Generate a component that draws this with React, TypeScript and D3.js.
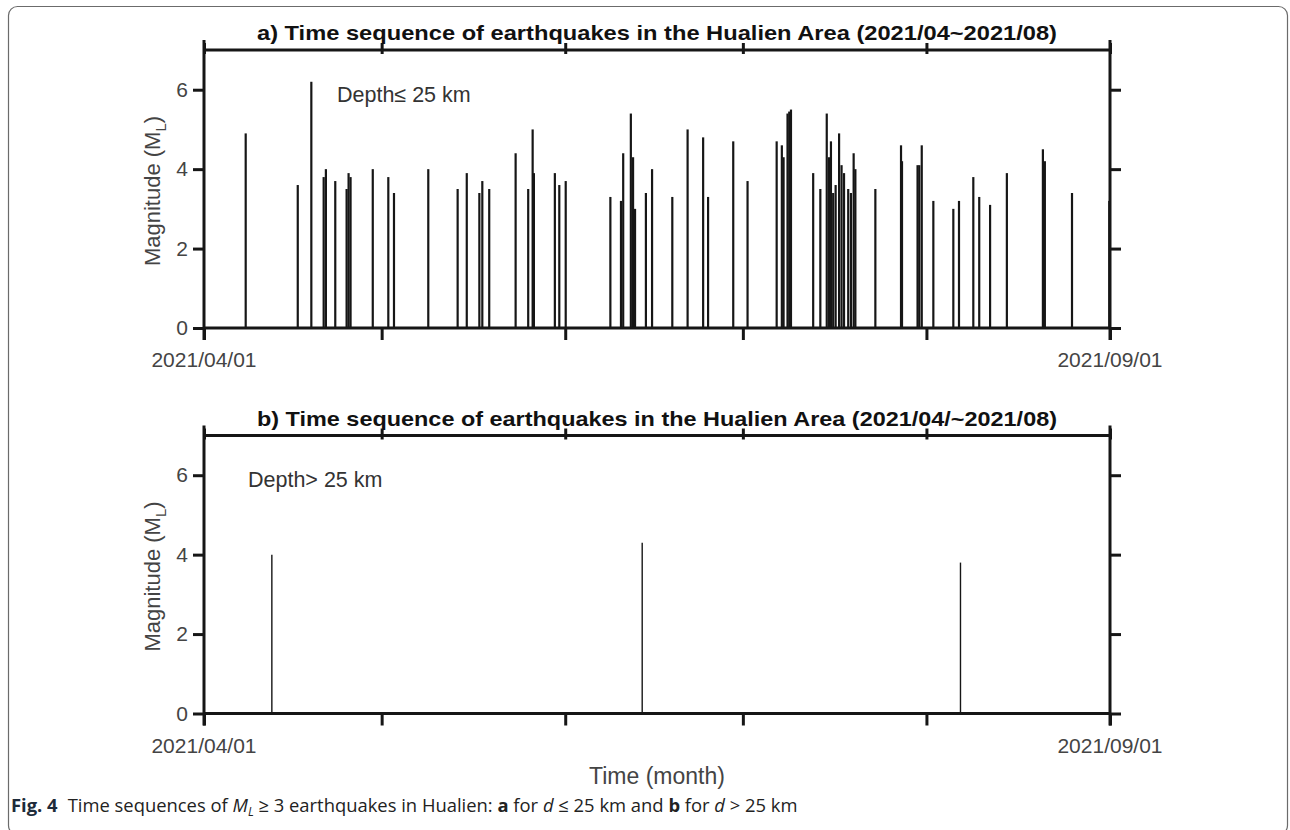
import React, { useEffect, useRef } from "react";
import * as d3 from "d3";

// events with depth <= 25 km (date-hour, magnitude ML)
const shallowTimes = [
  "2021-04-08 01", "2021-04-16 20", "2021-04-19 03", "2021-04-21 05", "2021-04-21 14",
  "2021-04-23 04", "2021-04-25 02", "2021-04-25 10", "2021-04-25 18", "2021-04-29 12",
  "2021-05-02 03", "2021-05-03 02", "2021-05-08 21", "2021-05-13 20", "2021-05-15 09",
  "2021-05-17 12", "2021-05-18 00", "2021-05-19 04", "2021-05-23 15", "2021-05-25 18",
  "2021-05-26 12", "2021-05-26 17", "2021-05-30 06", "2021-05-31 00", "2021-06-01 02",
  "2021-06-08 15", "2021-06-10 10", "2021-06-10 19", "2021-06-12 02", "2021-06-12 11",
  "2021-06-12 19", "2021-06-14 15", "2021-06-15 16", "2021-06-19 02", "2021-06-21 16",
  "2021-06-24 07", "2021-06-25 03", "2021-06-29 09", "2021-07-01 19", "2021-07-06 17",
  "2021-07-07 14", "2021-07-07 21", "2021-07-08 13", "2021-07-08 20", "2021-07-09 03",
  "2021-07-12 21", "2021-07-14 02", "2021-07-15 04", "2021-07-15 13", "2021-07-15 21",
  "2021-07-16 06", "2021-07-16 16", "2021-07-17 06", "2021-07-17 16", "2021-07-18 02",
  "2021-07-18 19", "2021-07-19 06", "2021-07-19 17", "2021-07-20 00", "2021-07-23 09",
  "2021-07-27 17", "2021-07-27 21", "2021-07-30 12", "2021-07-30 19", "2021-07-31 05",
  "2021-08-02 04", "2021-08-05 13", "2021-08-06 12", "2021-08-08 22", "2021-08-09 22",
  "2021-08-11 18", "2021-08-14 14", "2021-08-20 16", "2021-08-21 00", "2021-08-25 14",
  "2021-08-31 21",
];
const shallowMags = [
  4.9, 3.6, 6.2, 3.8, 4.0,
  3.7, 3.5, 3.9, 3.8, 4.0,
  3.8, 3.4, 4.0, 3.5, 3.9,
  3.4, 3.7, 3.5, 4.4, 3.5,
  5.0, 3.9, 3.9, 3.6, 3.7,
  3.3, 3.2, 4.4, 5.4, 4.3,
  3.0, 3.4, 4.0, 3.3, 5.0,
  4.8, 3.3, 4.7, 3.7, 4.7,
  4.6, 4.3, 5.4, 5.45, 5.5,
  3.9, 3.5, 5.4, 4.3, 4.7,
  3.4, 3.6, 4.9, 4.1, 3.9,
  3.5, 3.4, 4.4, 4.0, 3.5,
  4.6, 4.2, 4.1, 4.1, 4.6,
  3.2, 3.0, 3.2, 3.8, 3.3,
  3.1, 3.9, 4.5, 4.2, 3.4,
  3.2,
];

// events with depth > 25 km
const deepTimes = ["2021-04-12 11", "2021-06-14 00", "2021-08-06 18"];
const deepMags = [4.0, 4.3, 3.8];

const yTicks = [0, 2, 4, 6];
const startLabel = "2021/04/01";
const endLabel = "2021/09/01";

const panels = [
  {
    title: "a) Time sequence of earthquakes in the Hualien Area (2021/04~2021/08)",
    note: "Depth\u2264 25 km",
    noteX: 337,
    times: shallowTimes,
    mags: shallowMags,
    top: 50,
    bottom: 328,
    barWidth: 2.2,
  },
  {
    title: "b) Time sequence of earthquakes in the Hualien Area (2021/04/~2021/08)",
    note: "Depth> 25 km",
    noteX: 248,
    times: deepTimes,
    mags: deepMags,
    top: 435.5,
    bottom: 713.5,
    barWidth: 1.4,
  },
];

const W = 1290;
const H = 830;
const LEFT = 204;
const RIGHT = 1110;
const FONT = "'Liberation Sans', Arial, sans-serif";
const INK = "#161616";

export default function App() {
  const ref = useRef<SVGSVGElement>(null);

  useEffect(() => {
    const svg = d3.select(ref.current);
    svg.selectAll("*").remove();

    const parse = d3.utcParse("%Y-%m-%d %H");
    const start = new Date(Date.UTC(2021, 3, 1));
    const end = new Date(Date.UTC(2021, 8, 1));
    const x = d3.scaleUtc().domain([start, end]).range([LEFT, RIGHT]);
    const months = d3.utcMonth.range(start, d3.utcDay.offset(end, 1));

    // outer figure border
    svg
      .append("rect")
      .attr("x", 8.5)
      .attr("y", 6.5)
      .attr("width", 1279)
      .attr("height", 828)
      .attr("rx", 9)
      .attr("fill", "none")
      .attr("stroke", "#6b6b6b")
      .attr("stroke-width", 1.2);

    panels.forEach((p) => {
      const y = d3.scaleLinear().domain([0, 7]).range([p.bottom, p.top]);
      const g = svg.append("g");

      // bars
      const events = p.times.map((t, i) => ({ date: parse(t) as Date, mag: p.mags[i] }));
      g.append("g")
        .selectAll("line")
        .data(events)
        .join("line")
        .attr("x1", (d) => x(d.date))
        .attr("x2", (d) => x(d.date))
        .attr("y1", y(0))
        .attr("y2", (d) => y(d.mag))
        .attr("stroke", INK)
        .attr("stroke-width", p.barWidth);

      const styleAxis = (sel: any) => {
        sel.select(".domain").remove();
        sel.selectAll(".tick line").attr("stroke", INK).attr("stroke-width", 3);
        sel
          .selectAll(".tick text")
          .attr("font-family", FONT)
          .attr("font-size", 21)
          .attr("fill", "#444");
      };

      // left axis with labels
      g.append("g")
        .attr("transform", `translate(${LEFT},0)`)
        .call(d3.axisLeft(y).tickValues(yTicks).tickSize(11).tickPadding(5).tickFormat(d3.format("d")))
        .call(styleAxis);

      // right axis ticks
      g.append("g")
        .attr("transform", `translate(${RIGHT},0)`)
        .call(d3.axisRight(y).tickValues(yTicks).tickSize(11).tickFormat(() => ""))
        .call(styleAxis);

      // bottom month ticks
      g.append("g")
        .attr("transform", `translate(0,${p.bottom})`)
        .call(d3.axisBottom(x).tickValues(months).tickSize(12).tickFormat(() => ""))
        .call(styleAxis);

      // top month ticks (crossing the frame)
      g.append("g")
        .attr("transform", `translate(0,${p.top + 4})`)
        .call(d3.axisTop(x).tickValues(months).tickSize(11).tickFormat(() => ""))
        .call(styleAxis);

      // frame
      const frame = g.append("g").attr("stroke", INK).attr("stroke-width", 3).attr("fill", "none");
      frame.append("line").attr("x1", LEFT).attr("x2", RIGHT).attr("y1", p.top).attr("y2", p.top);
      frame.append("line").attr("x1", LEFT).attr("x2", RIGHT).attr("y1", p.bottom).attr("y2", p.bottom);
      frame.append("line").attr("x1", LEFT).attr("x2", LEFT).attr("y1", p.top - 10).attr("y2", p.bottom + 12);
      frame.append("line").attr("x1", RIGHT).attr("x2", RIGHT).attr("y1", p.top - 10).attr("y2", p.bottom + 12);

      // date labels at the ends
      const dateText = g.append("g").attr("font-family", FONT).attr("font-size", 21).attr("fill", "#444");
      dateText.append("text").attr("x", x(start)).attr("y", p.bottom + 39).attr("text-anchor", "middle").text(startLabel);
      dateText.append("text").attr("x", x(end)).attr("y", p.bottom + 39).attr("text-anchor", "middle").text(endLabel);

      // title
      g.append("text")
        .attr("x", (LEFT + RIGHT) / 2)
        .attr("y", p.top - 10)
        .attr("text-anchor", "middle")
        .attr("font-family", FONT)
        .attr("font-weight", "bold")
        .attr("font-size", 21)
        .attr("textLength", 800)
        .attr("lengthAdjust", "spacingAndGlyphs")
        .attr("fill", "#111")
        .text(p.title);

      // depth note
      g.append("text")
        .attr("x", p.noteX)
        .attr("y", y(5.9) + 8)
        .attr("font-family", FONT)
        .attr("font-size", 21.5)
        .attr("fill", "#333")
        .text(p.note);

      // y label
      const yl = g
        .append("text")
        .attr("transform", `translate(160,${(p.top + p.bottom) / 2 + 2}) rotate(-90)`)
        .attr("text-anchor", "middle")
        .attr("font-family", FONT)
        .attr("font-size", 22)
        .attr("fill", "#444");
      yl.append("tspan").text("Magnitude (M");
      yl.append("tspan").attr("font-size", 15).attr("dy", 6).text("L");
      yl.append("tspan").attr("dy", -6).text(")");
    });

    // x axis title
    svg
      .append("text")
      .attr("x", (LEFT + RIGHT) / 2)
      .attr("y", 784)
      .attr("text-anchor", "middle")
      .attr("font-family", FONT)
      .attr("font-size", 23)
      .attr("fill", "#444")
      .text("Time (month)");

    // caption
    const cap = svg
      .append("text")
      .attr("x", 11)
      .attr("y", 812)
      .attr("font-family", "'Open Sans', sans-serif")
      .attr("font-size", 18.4)
      .attr("fill", "#222");
    cap.append("tspan").attr("font-weight", "bold").attr("fill", "#1d2b3a").text("Fig. 4");
    cap.append("tspan").attr("dx", 10).text("Time sequences of ");
    cap.append("tspan").attr("font-style", "italic").text("M");
    cap.append("tspan").attr("font-style", "italic").attr("font-size", 12).attr("dy", 4).text("L");
    cap.append("tspan").attr("dy", -4).text(" \u2265 3 earthquakes in Hualien: ");
    cap.append("tspan").attr("font-weight", "bold").text("a");
    cap.append("tspan").text(" for ");
    cap.append("tspan").attr("font-style", "italic").text("d");
    cap.append("tspan").text(" \u2264 25 km and ");
    cap.append("tspan").attr("font-weight", "bold").text("b");
    cap.append("tspan").text(" for ");
    cap.append("tspan").attr("font-style", "italic").text("d");
    cap.append("tspan").text(" > 25 km");
  }, []);

  return (
    <svg
      ref={ref}
      width={W}
      height={H}
      style={{ position: "absolute", left: 0, top: 0, background: "#fff" }}
    />
  );
}
